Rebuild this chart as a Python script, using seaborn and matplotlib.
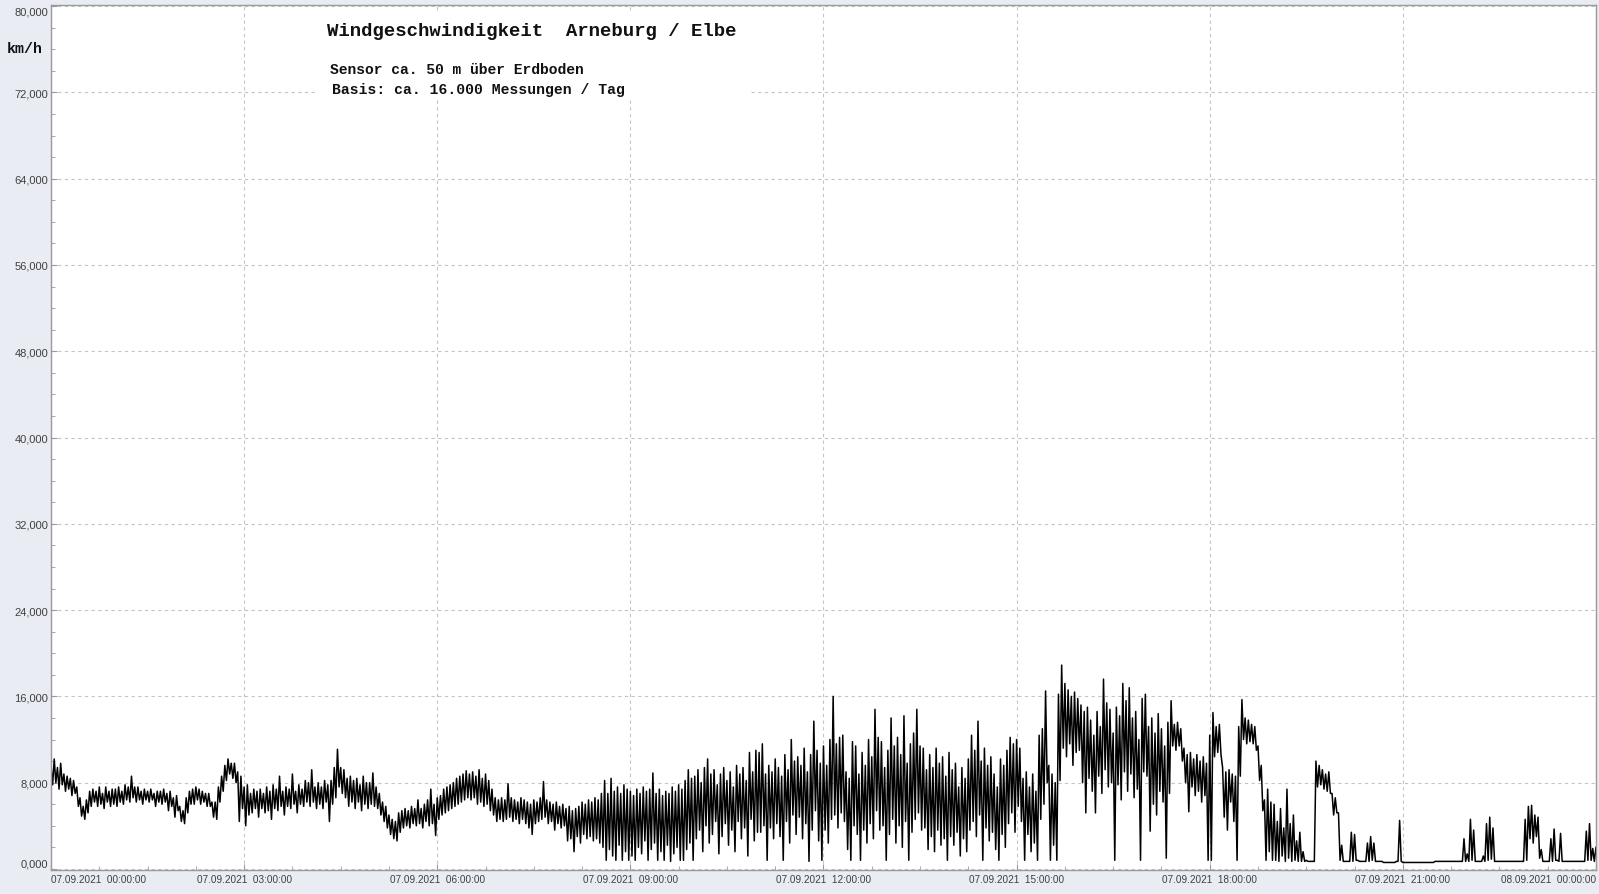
import numpy as np
import matplotlib
matplotlib.use('Agg')
import matplotlib.pyplot as plt
import seaborn as sns
from matplotlib.ticker import MultipleLocator, FuncFormatter
from matplotlib.patches import Rectangle

# wind speed in km/h on 07.09.2021, read per 3-minute window:
# hi = highest reading in the window, lo = lowest reading in the window
h00_hi = [9.6, 10.2, 9.4, 9.8, 8.8, 8.6, 8.4, 8.2, 7.6, 6.6, 5.8, 6.4, 7.2, 7.4, 7.2, 7.6, 7.0, 7.6, 7.2, 7.4]
h00_lo = [7.8, 8.0, 7.4, 7.8, 7.2, 7.4, 6.8, 7.0, 5.8, 4.9, 4.6, 5.2, 5.8, 6.2, 5.8, 6.0, 5.6, 6.2, 5.8, 6.0]
h01_hi = [7.4, 7.6, 7.2, 7.8, 7.6, 8.6, 7.6, 7.6, 7.2, 7.4, 7.2, 7.4, 7.0, 7.2, 7.2, 7.4, 7.0, 7.2, 6.6, 6.8]
h01_lo = [5.8, 6.2, 6.0, 6.4, 6.2, 6.6, 6.2, 6.4, 6.0, 6.4, 6.2, 6.4, 5.8, 6.2, 6.0, 6.2, 5.4, 5.8, 4.8, 5.4]
h02_hi = [5.8, 5.4, 6.6, 7.2, 7.4, 7.6, 7.4, 7.2, 7.0, 7.0, 6.2, 6.2, 7.6, 8.6, 9.6, 10.2, 9.8, 9.8, 9.0, 8.6]
h02_lo = [4.4, 4.2, 5.2, 6.0, 6.0, 6.4, 6.0, 6.2, 5.8, 5.8, 4.8, 4.6, 6.2, 7.2, 8.2, 8.8, 8.4, 8.0, 4.4, 5.6]
h03_hi = [7.6, 7.8, 7.0, 7.4, 7.2, 7.4, 7.0, 7.6, 7.2, 7.8, 7.4, 8.6, 7.2, 7.6, 7.4, 8.8, 7.2, 7.8, 7.4, 8.2]
h03_lo = [4.0, 5.0, 5.2, 5.6, 4.8, 5.6, 5.2, 5.4, 4.6, 5.6, 5.4, 5.8, 5.0, 5.8, 5.6, 6.0, 5.2, 6.0, 5.8, 6.2]
h04_hi = [8.0, 9.2, 7.6, 8.0, 7.6, 8.2, 7.8, 8.2, 9.4, 11.1, 9.4, 9.2, 8.4, 8.6, 8.2, 8.4, 7.8, 8.6, 8.0, 8.0]
h04_lo = [5.8, 6.2, 5.6, 6.0, 5.6, 6.2, 4.4, 6.0, 6.6, 7.6, 7.0, 6.6, 5.8, 6.2, 5.6, 6.2, 5.4, 6.0, 5.6, 6.0]
h05_hi = [8.9, 7.6, 7.0, 6.2, 5.8, 5.0, 4.6, 4.4, 5.2, 5.4, 5.6, 5.4, 5.8, 5.6, 6.4, 5.6, 6.0, 6.4, 7.4, 6.0]
h05_lo = [5.8, 5.6, 5.0, 4.4, 3.8, 3.2, 2.8, 2.6, 3.4, 3.8, 4.0, 3.8, 4.2, 4.0, 4.2, 3.8, 4.4, 4.0, 4.2, 3.1]
h06_hi = [6.6, 6.8, 7.4, 7.6, 7.8, 8.0, 8.4, 8.6, 8.8, 9.1, 8.8, 9.0, 8.6, 9.2, 8.4, 8.8, 8.2, 7.4, 6.6, 6.4]
h06_lo = [4.6, 5.0, 5.2, 5.4, 5.6, 5.8, 6.0, 6.2, 6.4, 6.6, 6.4, 6.6, 6.0, 6.2, 5.8, 6.0, 5.4, 5.0, 4.4, 4.6]
h07_hi = [6.6, 6.4, 7.9, 6.6, 6.4, 6.2, 6.6, 6.4, 6.2, 6.0, 6.4, 6.2, 6.6, 8.1, 6.4, 6.2, 6.0, 6.2, 5.8, 6.0]
h07_lo = [4.4, 4.6, 4.8, 4.4, 4.6, 4.2, 4.6, 4.2, 3.8, 3.2, 4.2, 4.4, 4.6, 4.8, 4.2, 4.4, 3.6, 4.2, 3.8, 4.0]
h08_hi = [5.6, 5.8, 5.4, 5.6, 5.8, 6.2, 6.0, 6.4, 6.2, 6.6, 6.4, 7.0, 8.2, 7.0, 8.4, 7.2, 7.6, 7.0, 7.8, 7.4]
h08_lo = [2.6, 2.8, 1.6, 3.0, 2.4, 3.2, 2.8, 3.0, 2.6, 2.8, 2.4, 2.0, 0.8, 1.8, 1.2, 0.8, 2.2, 0.8, 1.6, 0.8]
h09_hi = [7.2, 6.8, 7.4, 7.0, 7.6, 7.2, 7.4, 8.9, 7.0, 7.4, 6.8, 7.2, 7.0, 7.6, 7.2, 7.8, 7.4, 8.2, 9.2, 8.4]
h09_lo = [1.2, 0.8, 2.0, 1.4, 2.6, 0.8, 1.8, 2.4, 0.8, 1.6, 0.8, 2.2, 0.7, 1.4, 2.0, 0.8, 0.8, 1.8, 2.4, 0.8]
h10_hi = [8.6, 9.2, 8.0, 9.4, 10.2, 8.8, 9.2, 7.8, 8.8, 9.4, 8.2, 9.0, 7.6, 9.6, 8.8, 9.4, 8.2, 10.8, 9.0, 11.0]
h10_lo = [2.8, 3.6, 1.6, 4.0, 2.4, 3.2, 4.4, 1.4, 3.0, 4.2, 2.2, 3.6, 1.6, 4.4, 2.8, 3.8, 1.2, 4.6, 2.6, 3.4]
h11_hi = [10.8, 11.6, 8.8, 9.6, 9.0, 10.2, 9.4, 8.6, 10.6, 9.2, 12.0, 10.0, 10.4, 9.6, 11.2, 9.0, 10.6, 13.7, 11.0, 9.8]
h11_lo = [3.4, 4.0, 0.8, 3.8, 2.8, 4.2, 3.0, 0.8, 4.4, 2.4, 5.0, 3.2, 4.8, 2.8, 4.2, 0.7, 3.6, 5.4, 2.6, 0.8]
h12_hi = [11.4, 9.6, 12.0, 16.0, 11.6, 12.2, 12.4, 9.0, 8.4, 11.8, 11.4, 8.8, 10.8, 9.6, 12.0, 10.4, 14.8, 12.2, 11.8, 9.4]
h12_lo = [3.6, 2.4, 4.6, 5.0, 3.8, 5.2, 4.4, 1.8, 0.8, 4.0, 3.2, 0.8, 3.6, 2.4, 4.2, 2.8, 5.4, 3.6, 4.0, 0.8]
h13_hi = [11.0, 14.0, 11.4, 12.2, 10.6, 14.2, 9.8, 11.6, 12.6, 14.8, 11.4, 11.2, 9.2, 10.6, 9.4, 11.2, 9.8, 10.4, 8.6, 10.8]
h13_lo = [3.2, 4.6, 2.4, 4.0, 2.0, 4.4, 0.8, 3.4, 4.6, 5.2, 3.6, 3.8, 1.8, 3.0, 1.6, 3.6, 2.2, 2.8, 0.8, 3.0]
h14_hi = [9.2, 9.8, 7.6, 9.4, 8.4, 10.2, 12.4, 11.0, 13.7, 10.0, 11.2, 9.6, 10.4, 8.8, 7.6, 10.2, 9.6, 11.0, 12.2, 11.6]
h14_lo = [2.2, 3.4, 1.2, 2.8, 1.6, 3.6, 4.4, 3.0, 5.0, 0.8, 3.8, 2.6, 3.4, 1.8, 0.8, 3.2, 2.0, 4.2, 5.2, 3.4]
h15_hi = [12.0, 11.2, 8.4, 9.0, 7.6, 8.8, 7.2, 12.4, 13.0, 16.5, 9.6, 8.8, 8.0, 16.2, 18.9, 17.2, 16.6, 16.0, 16.4, 15.8]
h15_lo = [5.8, 4.4, 0.8, 3.2, 1.6, 2.4, 0.8, 4.6, 6.0, 8.0, 0.8, 2.2, 0.8, 8.2, 11.2, 10.4, 11.6, 9.6, 10.8, 11.0]
h16_hi = [15.2, 14.6, 15.0, 13.8, 12.4, 14.6, 13.2, 17.6, 15.4, 14.8, 12.6, 15.0, 14.2, 17.2, 15.6, 16.8, 14.0, 14.6, 12.0, 15.8]
h16_lo = [8.0, 5.2, 8.4, 7.2, 5.2, 8.6, 7.0, 9.2, 7.6, 8.0, 0.8, 7.8, 6.4, 9.0, 7.2, 8.8, 6.6, 7.4, 0.8, 9.0]
h17_hi = [16.2, 13.2, 14.0, 12.6, 14.4, 13.0, 11.4, 13.6, 15.6, 13.4, 13.6, 13.0, 11.2, 10.6, 10.8, 10.2, 10.6, 10.0, 10.4, 9.8]
h17_lo = [8.6, 3.5, 6.0, 5.0, 7.2, 6.2, 1.0, 7.0, 11.4, 11.0, 11.4, 10.0, 8.0, 5.3, 7.6, 6.8, 7.2, 6.2, 6.8, 0.8]
h18_hi = [12.4, 14.5, 13.2, 13.4, 9.4, 9.0, 9.2, 8.8, 8.6, 13.2, 15.7, 14.0, 13.8, 13.4, 13.2, 11.4, 9.6, 6.4, 7.4, 6.2]
h18_lo = [0.8, 10.4, 10.8, 10.6, 4.8, 3.6, 6.2, 4.4, 0.8, 8.6, 12.0, 11.6, 11.8, 11.6, 11.0, 8.2, 5.4, 0.8, 1.6, 0.8]
h19_hi = [6.0, 4.4, 5.6, 3.8, 7.4, 4.2, 5.0, 2.6, 3.4, 1.6, 0.8, 0.7, 0.7, 10.0, 9.6, 9.2, 8.8, 9.0, 7.0, 6.6]
h19_lo = [0.8, 0.7, 1.2, 0.7, 1.0, 0.7, 0.8, 0.7, 0.7, 0.7, 0.7, 0.7, 0.7, 7.6, 7.8, 7.4, 7.2, 7.0, 5.0, 5.2]
h20_hi = [5.2, 2.2, 0.7, 0.7, 3.4, 3.2, 0.8, 0.7, 0.7, 2.4, 3.0, 2.4, 0.7, 0.7, 0.6, 0.6, 0.6, 0.6, 0.7, 4.5]
h20_lo = [0.8, 0.7, 0.7, 0.7, 0.7, 0.8, 0.7, 0.7, 0.7, 0.7, 0.8, 0.7, 0.7, 0.7, 0.6, 0.6, 0.6, 0.6, 0.7, 0.7]
h21_hi = [0.6, 0.6, 0.6, 0.6, 0.6, 0.6, 0.6, 0.6, 0.6, 0.6, 0.7, 0.7, 0.7, 0.7, 0.7, 0.7, 0.7, 0.7, 0.7, 2.8]
h21_lo = [0.6, 0.6, 0.6, 0.6, 0.6, 0.6, 0.6, 0.6, 0.6, 0.6, 0.7, 0.7, 0.7, 0.7, 0.7, 0.7, 0.7, 0.7, 0.7, 0.7]
h22_hi = [1.4, 4.6, 3.6, 0.7, 0.7, 1.2, 4.2, 4.8, 3.8, 0.7, 0.7, 0.7, 0.7, 0.7, 0.7, 0.7, 0.7, 0.7, 4.6, 5.8]
h22_lo = [0.7, 0.8, 0.7, 0.7, 0.7, 0.7, 0.8, 0.9, 0.7, 0.7, 0.7, 0.7, 0.7, 0.7, 0.7, 0.7, 0.7, 0.7, 0.8, 2.8]
h23_hi = [5.9, 5.0, 4.8, 1.8, 0.7, 0.7, 2.8, 3.7, 0.8, 3.3, 0.7, 0.7, 0.7, 0.7, 0.7, 0.7, 0.7, 3.5, 4.2, 1.9]
h23_lo = [2.4, 3.0, 1.0, 0.7, 0.7, 0.7, 0.7, 0.8, 0.7, 0.7, 0.7, 0.7, 0.7, 0.7, 0.7, 0.7, 0.7, 0.8, 0.8, 0.7]
last_value = 2.0  # 08.09.2021 00:00:00

hi = np.array(h00_hi + h01_hi + h02_hi + h03_hi + h04_hi + h05_hi + h06_hi + h07_hi
              + h08_hi + h09_hi + h10_hi + h11_hi + h12_hi + h13_hi + h14_hi + h15_hi
              + h16_hi + h17_hi + h18_hi + h19_hi + h20_hi + h21_hi + h22_hi + h23_hi)
lo = np.array(h00_lo + h01_lo + h02_lo + h03_lo + h04_lo + h05_lo + h06_lo + h07_lo
              + h08_lo + h09_lo + h10_lo + h11_lo + h12_lo + h13_lo + h14_lo + h15_lo
              + h16_lo + h17_lo + h18_lo + h19_lo + h20_lo + h21_lo + h22_lo + h23_lo)

start = np.arange(len(hi)) * 0.05  # hours, 3 minute windows
hours = np.append(np.column_stack([start, start + 0.025]).ravel(), 24.0)
speed = np.append(np.column_stack([hi, lo]).ravel(), last_value)

tick_hours = [0, 3, 6, 9, 12, 15, 18, 21, 24]
tick_labels = ['07.09.2021  00:00:00', '07.09.2021  03:00:00', '07.09.2021  06:00:00',
               '07.09.2021  09:00:00', '07.09.2021  12:00:00', '07.09.2021  15:00:00',
               '07.09.2021  18:00:00', '07.09.2021  21:00:00', '08.09.2021  00:00:00']
y_ticks = [0, 8, 16, 24, 32, 40, 48, 56, 64, 72, 80]

plt.rcParams['font.family'] = ['Liberation Sans', 'DejaVu Sans']

bg = '#e9ecf2'
fig = plt.figure(figsize=(15.99, 8.95), dpi=100, facecolor=bg)
ax = fig.add_axes([0.0319, 0.0268, 0.9662, 0.9665])
ax.set_facecolor('white')

sns.lineplot(x=hours, y=speed, ax=ax, color='black', linewidth=1.1, estimator=None)

ax.set_xlim(0, 24)
ax.set_ylim(-0.1, 80.1)
ax.set_xticks(tick_hours, tick_labels)
ax.set_yticks(y_ticks)
ax.xaxis.set_minor_locator(MultipleLocator(0.75))
ax.yaxis.set_minor_locator(MultipleLocator(2))
ax.yaxis.set_major_formatter(FuncFormatter(lambda v, p: f'{v:.3f}'.replace('.', ',')))
ax.set_xlabel('')
ax.set_ylabel('')

ax.grid(True, which='major', color='#c4c4c4', linestyle=(0, (3, 3)), linewidth=0.8)
ax.set_axisbelow(True)
ax.tick_params(which='both', direction='in', color='#9a9a9a', labelcolor='#404040')
ax.tick_params(which='major', length=4)
ax.tick_params(which='minor', length=3)
ax.tick_params(axis='x', labelsize=7.2, pad=3)
ax.tick_params(axis='y', labelsize=8, pad=2)
for s in ax.spines.values():
    s.set_color('#9a9a9a')
    s.set_linewidth(1)

xl = ax.get_xticklabels()
xl[0].set_ha('left')
xl[-1].set_ha('right')
yl = ax.get_yticklabels()
yl[0].set_va('bottom')
yl[-1].set_va('top')

# white box behind the heading texts
ax.add_patch(Rectangle((318 / 1599, 1 - 100 / 895), 432 / 1599, 88 / 895,
                       transform=fig.transFigure, facecolor='white', edgecolor='none', zorder=1))

mono = 'Liberation Mono'
fig.text(327 / 1599, 1 - 31.7 / 895, 'Windgeschwindigkeit  Arneburg / Elbe', ha='left', va='center',
         fontsize=13.7, family=mono, weight='bold', color='#111111')
fig.text(330 / 1599, 1 - 70 / 895, 'Sensor ca. 50 m über Erdboden', ha='left', va='center',
         fontsize=10.5, family=mono, weight='bold', color='#111111')
fig.text(331.5 / 1599, 1 - 90 / 895, 'Basis: ca. 16.000 Messungen / Tag', ha='left', va='center',
         fontsize=10.6, family=mono, weight='bold', color='#111111')
fig.text(7 / 1599, 1 - 49 / 895, 'km/h', ha='left', va='center',
         fontsize=10.8, family=mono, weight='bold', color='#111111')

fig.savefig('out.png', dpi=100, facecolor=bg)
